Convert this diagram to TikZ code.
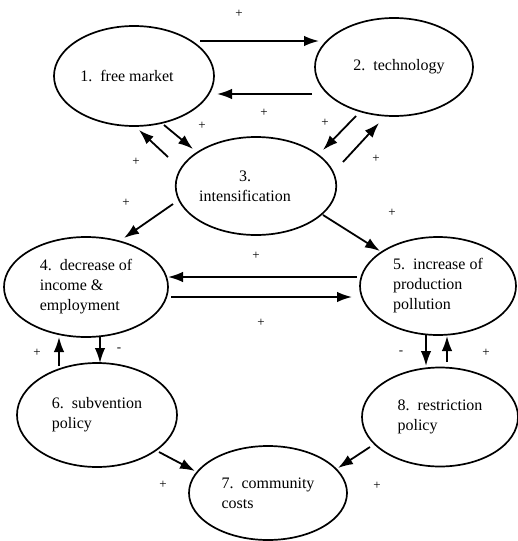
\documentclass[tikz,border=0pt]{standalone}
\usepackage{fontspec}
\setmainfont{Liberation Serif}
\usetikzlibrary{shapes.geometric,arrows.meta,calc}
\begin{document}
\begin{tikzpicture}[x=1pt,y=-1pt,
  ell/.style={draw,line width=1.7pt,ellipse,inner sep=0pt,font=\fontsize{16}{20}\selectfont},
  arr/.style={line width=1.8pt,-{Latex[length=15pt,width=10.5pt]}},
  sign/.style={font=\fontsize{13}{14}\selectfont,inner sep=0pt}]
\useasboundingbox (0,0) rectangle (517,541);
\node[ell,minimum width=160pt,minimum height=100pt] (e1) at (134,76) {1.\ \ free market\hspace*{14pt}};
\node[ell,minimum width=158pt,minimum height=98pt] (e2) at (394,67) {\hspace*{10pt}2.\ \ technology};
\node[ell,minimum width=158pt,minimum height=98pt,align=center] (e3) at (256,186) {3.\hspace*{22pt}\\intensification\hspace*{22pt}};
\node[ell,minimum width=164pt,minimum height=100pt,align=left] (e4) at (86,287) {4.\ \ decrease of\\income \&\\employment};
\node[ell,minimum width=156pt,minimum height=98pt,align=left] (e5) at (438,286) {5.\ \ increase of\\production\\pollution};
\node[ell,minimum width=160pt,minimum height=104pt,align=left] (e6) at (97,415) {6.\ \ subvention\\policy};
\node[ell,minimum width=156pt,minimum height=99pt,align=left] (e8) at (440,417) {8.\ \ restriction\\policy};
\node[ell,minimum width=158pt,minimum height=94pt,align=left] (e7) at (268,493) {7.\ \ community\\costs};
% connectors
\draw[arr] ($(e1.center)+(66,-35)$) -- ($(e2.center)+(-75,-26)$);
\draw[arr] ($(e2.center)+(-82,27)$) -- ($(e1.center)+(83,18)$);
\draw[arr] ($(e1.center)+(30,49)$) -- ($(e3.center)+(-63,-37)$);
\draw[arr] ($(e3.center)+(-88,-29)$) -- ($(e1.center)+(5,54)$);
\draw[arr] ($(e2.center)+(-38,49)$) -- ($(e3.center)+(67,-36)$);
\draw[arr] ($(e3.center)+(87,-24)$) -- ($(e2.center)+(-15,56)$);
\draw[arr] ($(e3.center)+(-83,18)$) -- ($(e4.center)+(38,-49)$);
\draw[arr] ($(e3.center)+(67,29)$) -- ($(e5.center)+(-58,-35)$);
\draw[arr] ($(e5.center)+(-81,-9)$) -- ($(e4.center)+(82,-10)$);
\draw[arr] ($(e4.center)+(85,10)$) -- ($(e5.center)+(-86,11)$);
\draw[arr] ($(e6.center)+(-38,-49)$) -- ($(e4.center)+(-27,50)$);
\draw[arr] ($(e4.center)+(14,50)$) -- ($(e6.center)+(3,-52)$);
\draw[arr] ($(e5.center)+(-12,49)$) -- ($(e8.center)+(-14,-51)$);
\draw[arr] ($(e8.center)+(7,-55)$) -- ($(e5.center)+(9,50)$);
\draw[arr] ($(e6.center)+(62,37)$) -- ($(e7.center)+(-73,-22)$);
\draw[arr] ($(e8.center)+(-70,30)$) -- ($(e7.center)+(70,-25)$);
% signs
\node[sign] (s1) at (239,14) {+};
\node[sign] (s2) at (264,113) {+};
\node[sign] (s3) at (202,126) {+};
\node[sign] (s4) at (136,162) {+};
\node[sign] (s5) at (325,123) {+};
\node[sign] (s6) at (376,159) {+};
\node[sign] (s7) at (126,203) {+};
\node[sign] (s8) at (392,213) {+};
\node[sign] (s9) at (256,256) {+};
\node[sign] (s10) at (261,323) {+};
\node[sign] (s11) at (37,353) {+};
\node[sign] (s12) at (119,350) {-};
\node[sign] (s13) at (401,353) {-};
\node[sign] (s14) at (486,353) {+};
\node[sign] (s15) at (163,485) {+};
\node[sign] (s16) at (377,486) {+};
\end{tikzpicture}
\end{document}
